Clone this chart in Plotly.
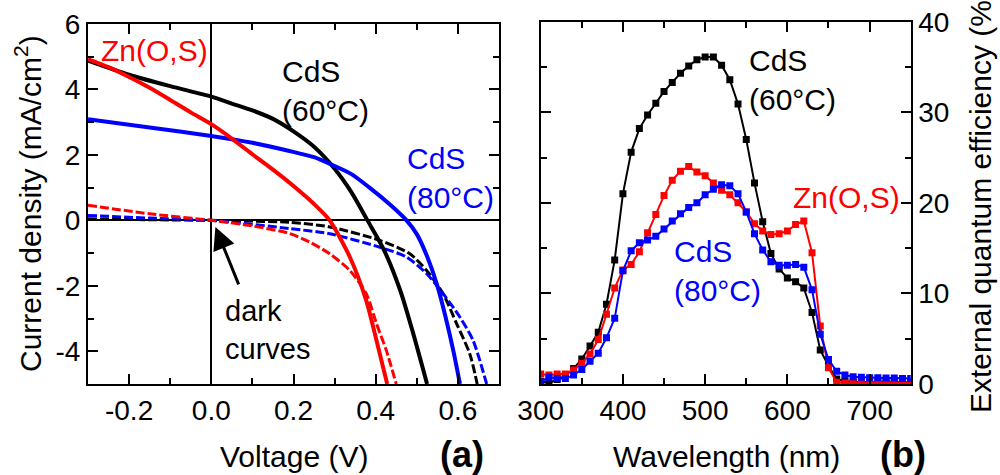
import plotly.graph_objects as go

# ---------------- Panel (a): J-V curves ----------------
v_zno_light = [-0.3, -0.25, -0.2, -0.15, -0.1, -0.05, 0.0, 0.05, 0.1, 0.15, 0.2, 0.25, 0.288, 0.337, 0.377, 0.402, 0.428]
j_zno_light = [4.93, 4.68, 4.38, 4.05, 3.68, 3.3, 2.94, 2.5, 2.02, 1.55, 1.05, 0.5, 0.0, -1.12, -2.45, -3.67, -5.0]

v_cds60_light = [-0.3, -0.2, -0.1, 0.0, 0.05, 0.1, 0.15, 0.2, 0.25, 0.3, 0.34, 0.38, 0.42, 0.46, 0.49, 0.525]
j_cds60_light = [4.88, 4.45, 4.1, 3.78, 3.57, 3.36, 3.1, 2.72, 2.25, 1.58, 0.88, 0.0, -0.9, -2.15, -3.4, -5.0]

v_cds80_light = [-0.3, -0.15, 0.0, 0.1, 0.19, 0.25, 0.288, 0.34, 0.385, 0.434, 0.475, 0.5, 0.525, 0.55, 0.57, 0.59, 0.605]
j_cds80_light = [3.09, 2.84, 2.58, 2.37, 2.12, 1.93, 1.73, 1.42, 1.0, 0.49, 0.0, -0.42, -1.1, -2.0, -2.95, -4.05, -5.0]

v_zno_dark = [-0.3, -0.15, 0.0, 0.1, 0.19, 0.239, 0.288, 0.337, 0.377, 0.402, 0.426, 0.45]
j_zno_dark = [0.46, 0.2, 0.0, -0.17, -0.4, -0.66, -1.02, -1.53, -2.24, -3.16, -3.98, -5.0]

v_cds80_dark = [-0.3, -0.15, 0.0, 0.19, 0.288, 0.41, 0.475, 0.524, 0.564, 0.605, 0.637, 0.67]
j_cds80_dark = [0.15, 0.07, 0.0, -0.25, -0.41, -0.82, -1.12, -1.63, -2.24, -2.96, -3.67, -5.0]

v_cds60_dark = [-0.3, -0.15, 0.0, 0.19, 0.288, 0.41, 0.483, 0.524, 0.564, 0.597, 0.629, 0.647]
j_cds60_dark = [0.05, 0.02, 0.0, -0.06, -0.2, -0.61, -1.02, -1.53, -2.24, -3.16, -4.08, -5.0]

a_xtick_vals = [-0.2, 0.0, 0.2, 0.4, 0.6]
a_xtick_text = ["-0.2", "0.0", "0.2", "0.4", "0.6"]
a_ytick_vals = [-4, -2, 0, 2, 4, 6]
a_ytick_text = ["-4", "-2", "0", "2", "4", "6"]

# ---------------- Panel (b): EQE spectra ----------------
wavelength = [300, 310, 320, 330, 340, 350, 360, 370, 380, 390,
              400, 410, 420, 430, 440, 450, 460, 470, 480, 490,
              500, 510, 520, 530, 540, 550, 560, 570, 580, 590,
              600, 610, 620, 630, 640, 650, 660, 670, 680, 690,
              700, 710, 720, 730, 740, 750]
eqe_cds60 = [0.3, 0.1, 0.5, 0.9, 1.7, 2.75, 4.2, 5.7, 8.8, 13.7,
             21.0, 25.6, 28.2, 29.7, 31.0, 32.3, 33.3, 34.3, 35.1, 35.8,
             36.1, 36.1, 35.2, 33.6, 30.9, 27.0, 22.2, 17.9, 14.4, 12.7,
             11.7, 11.3, 10.6, 7.9, 3.75, 2.0, 0.55, 0.3, 0.25, 0.2,
             0.2, 0.2, 0.2, 0.2, 0.2, 0.2]
eqe_zno = [1.1, 1.0, 1.1, 1.1, 1.55, 2.3, 3.3, 4.9, 7.7, 10.6,
           12.6, 13.2, 14.6, 16.7, 18.7, 20.8, 22.5, 23.5, 24.0, 23.4,
           23.0, 22.2, 21.4, 20.9, 20.0, 19.0, 17.7, 16.9, 16.5, 16.6,
           16.9, 17.6, 18.0, 14.5, 6.4, 1.8, 0.2, 0.1, 0.1, 0.1,
           0.1, 0.1, 0.1, 0.1, 0.1, 0.1]
eqe_cds80 = [0.25, 0.74, 0.6, 0.6, 1.0, 1.6, 2.5, 3.4, 5.1, 7.25,
             12.5, 14.7, 15.6, 15.9, 16.3, 17.1, 18.0, 18.8, 19.5, 20.0,
             20.9, 21.5, 22.0, 21.9, 21.0, 19.0, 16.6, 14.8, 13.5, 13.1,
             13.1, 13.2, 12.9, 10.4, 5.5, 2.7, 1.4, 1.0, 0.8, 0.75,
             0.7, 0.7, 0.65, 0.65, 0.6, 0.6]

b_xtick_vals = [300, 400, 500, 600, 700]
b_xtick_text = ["300", "400", "500", "600", "700"]
b_ytick_vals = [0, 10, 20, 30, 40]
b_ytick_text = ["0", "10", "20", "30", "40"]

BLACK = "#000000"
RED = "#ff0000"
BLUE = "#0000ff"
FONT = "Liberation Sans, Arial, sans-serif"

fig = go.Figure()

# dark curves (dashed)
for v, j, c in [(v_cds60_dark, j_cds60_dark, BLACK),
                (v_cds80_dark, j_cds80_dark, BLUE),
                (v_zno_dark, j_zno_dark, RED)]:
    fig.add_trace(go.Scatter(x=v, y=j, mode="lines", xaxis="x", yaxis="y",
                             line=dict(color=c, width=3, dash="9px,3px", shape="spline", smoothing=0.7),
                             showlegend=False, hoverinfo="skip"))
# illuminated curves
for v, j, c in [(v_cds60_light, j_cds60_light, BLACK),
                (v_cds80_light, j_cds80_light, BLUE),
                (v_zno_light, j_zno_light, RED)]:
    fig.add_trace(go.Scatter(x=v, y=j, mode="lines", xaxis="x", yaxis="y",
                             line=dict(color=c, width=4, shape="spline", smoothing=0.7),
                             showlegend=False, hoverinfo="skip"))

# EQE
for y, c in [(eqe_cds60, BLACK), (eqe_zno, RED), (eqe_cds80, BLUE)]:
    fig.add_trace(go.Scatter(x=wavelength, y=y, mode="lines+markers", xaxis="x2", yaxis="y2",
                             line=dict(color=c, width=2),
                             marker=dict(symbol="square", size=7, color=c, line=dict(width=0)),
                             showlegend=False, hoverinfo="skip"))

tickfont = dict(family=FONT, size=28, color="black")
common = dict(showgrid=False, showline=True, linecolor="black", linewidth=2,
              ticks="inside", ticklen=10, tickwidth=2, tickcolor="black",
              mirror="allticks", tickfont=tickfont, automargin=False, tickmode="array")
minor_style = dict(ticks="inside", ticklen=6, tickwidth=2, tickcolor="black")

fig.update_layout(
    width=1000, height=475,
    margin=dict(l=0, r=0, t=0, b=0),
    paper_bgcolor="white", plot_bgcolor="white",
    font=dict(family=FONT, color="black"),
    xaxis=dict(domain=[0.088, 0.499], range=[-0.3, 0.7], anchor="y",
               tickvals=a_xtick_vals, ticktext=a_xtick_text,
               zeroline=True, zerolinecolor="black", zerolinewidth=1.5,
               minor=dict(minor_style, dtick=0.1, tick0=0), **common),
    yaxis=dict(domain=[1 - 384 / 475, 1 - 24 / 475], range=[-5, 6], anchor="x",
               tickvals=a_ytick_vals, ticktext=a_ytick_text,
               zeroline=True, zerolinecolor="black", zerolinewidth=1.5,
               minor=dict(minor_style, dtick=1, tick0=0), **common),
    xaxis2=dict(domain=[0.5407, 0.9107], range=[300, 750], anchor="y2",
                tickvals=b_xtick_vals, ticktext=b_xtick_text, zeroline=False,
                minor=dict(minor_style, dtick=50, tick0=0), **common),
    yaxis2=dict(domain=[1 - 384 / 475, 1 - 21.7 / 475], range=[0, 40], anchor="x2", side="right",
                tickvals=b_ytick_vals, ticktext=b_ytick_text, zeroline=False,
                minor=dict(minor_style, dtick=5, tick0=0), **common),
)

ann_font = dict(family=FONT, size=30)
title_font = dict(family=FONT, size=30, color=BLACK)
annotations = [
    # panel (a) labels
    dict(xref="x", yref="y", x=-0.273, y=5.2, text="Zn(O,S)", xanchor="left", yanchor="middle",
         showarrow=False, font=dict(ann_font, color=RED)),
    dict(xref="x", yref="y", x=0.166, y=3.95, text="CdS<br>(60°C)", xanchor="left", yanchor="middle",
         align="left", showarrow=False, font=dict(ann_font, color=BLACK)),
    dict(xref="x", yref="y", x=0.471, y=1.3, text="CdS<br>(80°C)", xanchor="left", yanchor="middle",
         align="left", showarrow=False, font=dict(ann_font, color=BLUE)),
    dict(xref="x", yref="y", x=0.029, y=-3.35, text="dark<br>curves", xanchor="left", yanchor="middle",
         align="left", showarrow=False, font=dict(family=FONT, size=29, color=BLACK)),
    dict(xref="x", yref="y", x=0.01, y=-0.2, ax=0.068, ay=-2.0, axref="x", ayref="y", text="",
         showarrow=True, arrowhead=2, arrowsize=1.5, arrowwidth=3, arrowcolor=BLACK, standoff=0),
    # panel (b) labels
    dict(xref="x2", yref="y2", x=551, y=33.55, text="CdS<br>(60°C)", xanchor="left", yanchor="middle",
         align="left", showarrow=False, font=dict(ann_font, color=BLACK)),
    dict(xref="x2", yref="y2", x=604.5, y=20.6, text="Zn(O,S)", xanchor="left", yanchor="middle",
         showarrow=False, font=dict(ann_font, color=RED)),
    dict(xref="x2", yref="y2", x=459.7, y=12.5, text="CdS<br>(80°C)", xanchor="left", yanchor="middle",
         align="left", showarrow=False, font=dict(ann_font, color=BLUE)),
    # axis titles
    dict(xref="paper", yref="paper", x=28 / 1000, y=1 - 204 / 475, text="Current density (mA/cm<sup>2</sup>)",
         textangle=-90, xanchor="center", yanchor="middle", showarrow=False, font=title_font),
    dict(xref="paper", yref="paper", x=294 / 1000, y=1 - 456 / 475, text="Voltage (V)",
         xanchor="center", yanchor="middle", showarrow=False, font=title_font),
    dict(xref="paper", yref="paper", x=726 / 1000, y=1 - 456 / 475, text="Wavelength (nm)",
         xanchor="center", yanchor="middle", showarrow=False, font=title_font),
    dict(xref="paper", yref="paper", x=981 / 1000, y=1 - 202 / 475, text="External quantum efficiency (%)",
         textangle=-90, xanchor="center", yanchor="middle", showarrow=False, font=title_font),
    dict(xref="paper", yref="paper", x=462 / 1000, y=1 - 454 / 475, text="<b>(a)</b>",
         xanchor="center", yanchor="middle", showarrow=False, font=dict(family=FONT, size=36, color=BLACK)),
    dict(xref="paper", yref="paper", x=903 / 1000, y=1 - 454 / 475, text="<b>(b)</b>",
         xanchor="center", yanchor="middle", showarrow=False, font=dict(family=FONT, size=36, color=BLACK)),
]
fig.update_layout(annotations=annotations)

fig.write_html("out.html", config={"displayModeBar": False},
               post_script="document.body.style.margin='0px';document.body.style.overflow='hidden';")
